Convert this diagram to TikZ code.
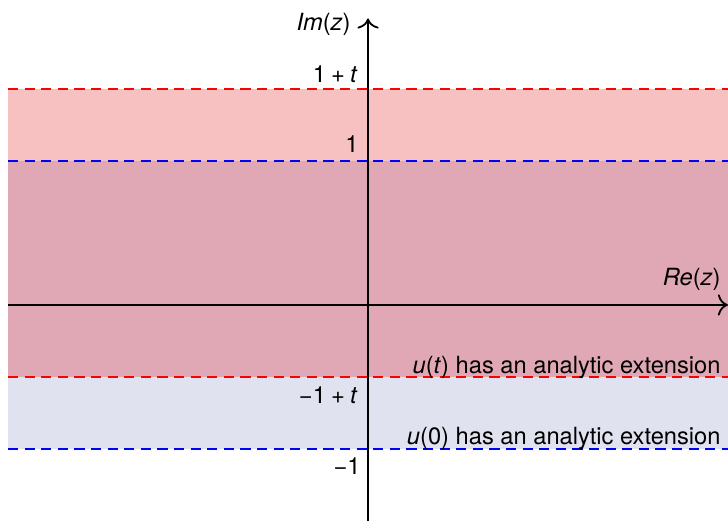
\documentclass[tikz,border=0pt]{standalone}
\usepackage{fontspec}
\usetikzlibrary{arrows.meta}
\setmainfont{TeX Gyre Heros}
\definecolor{bandtop}{HTML}{F7C1C1}
\definecolor{bandmid}{HTML}{E0A8B4}
\definecolor{bandlow}{HTML}{E0E2F0}
\begin{document}
\begin{tikzpicture}[x=2.5cm,y=2.5cm,
  lbl/.style={anchor=base east,inner sep=0pt,font=\fontsize{11.7}{14}\selectfont},
  axis/.style={line width=0.9pt,black,-{To[scale=1.4]}},
  redline/.style={red,line width=1.4pt,dash pattern=on 5pt off 3.2pt},
  blueline/.style={blue,line width=1.4pt,dash pattern=on 5pt off 3.2pt}]
\useasboundingbox (-2.556,-1.5) rectangle (2.5,2.118);
% bands
\fill[bandtop] (-2.5,1) rectangle (2.5,1.5);
\fill[bandmid] (-2.5,-0.5) rectangle (2.5,1);
\fill[bandlow] (-2.5,-1) rectangle (2.5,-0.5);
% dashed boundaries
\coordinate (rtl) at (-2.5,1.5);  \coordinate (rtr) at (2.5,1.5);
\coordinate (btl) at (-2.5,1);    \coordinate (btr) at (2.5,1);
\coordinate (rbl) at (-2.5,-0.5); \coordinate (rbr) at (2.5,-0.5);
\coordinate (bbl) at (-2.5,-1);   \coordinate (bbr) at (2.5,-1);
\draw[redline] (rtl) -- (rtr);
\draw[blueline] (btl) -- (btr);
\draw[redline] (rbl) -- (rbr);
\draw[blueline] (bbl) -- (bbr);
% axes
\coordinate (xs) at (-2.5,0); \coordinate (xe) at (2.5,0);
\coordinate (ys) at (0,-1.5); \coordinate (ye) at (0,1.99);
\draw[axis] (xs) -- (xe);
\draw[axis] (ys) -- (ye);
% labels
\node[lbl] (im) at (-0.118,1.903) {\textit{Im}(\textit{z})};
\node[lbl] (re) at (2.451,0.132) {\textit{Re}(\textit{z})};
\node[lbl] (onet) at (-0.069,1.542) {1\hspace{0.22em}+\hspace{0.22em}\textit{t}};
\node[lbl] (one) at (-0.0625,1.056) {1};
\node[lbl] (monet) at (-0.069,-0.681) {−1\hspace{0.22em}+\hspace{0.22em}\textit{t}};
\node[lbl] (mone) at (-0.049,-1.174) {−1};
\node[lbl] (ut) at (2.451,-0.479) {\textit{u}(\textit{t}) has an analytic extension};
\node[lbl] (uz) at (2.451,-0.972) {\textit{u}(0) has an analytic extension};
\end{tikzpicture}
\end{document}
